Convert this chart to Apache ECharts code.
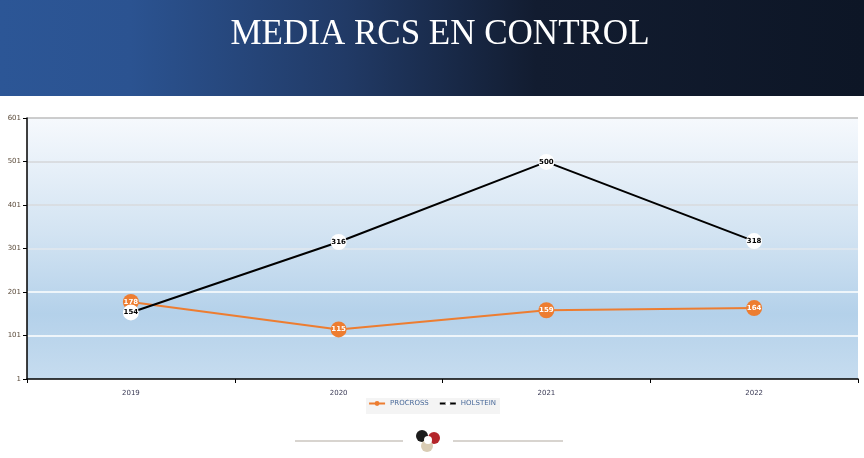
<!DOCTYPE html>
<html>
<head>
<meta charset="utf-8">
<script src="https://cdn.jsdelivr.net/npm/echarts@6/dist/echarts.min.js"></script>
<style>
  html, body { margin: 0; padding: 0; background: #fff; }
  #chart { width: 864px; height: 458px; }
</style>
</head>
<body>
<div id="chart"></div>
<script>
const years = ['2019', '2020', '2021', '2022']
const procross = [178, 115, 159, 164]
const holstein = [154, 316, 500, 318]
const yMin = 1
const yMax = 601
const yStep = 100

const chart = echarts.init(document.getElementById('chart'))

const headerFill = new echarts.graphic.LinearGradient(0, 0, 1, 0, [
  { offset: 0, color: '#2c5696' },
  { offset: 0.15, color: '#2b5391' },
  { offset: 0.4, color: '#213a66' },
  { offset: 0.62, color: '#121c30' },
  { offset: 1, color: '#0d1626' },
])

const plotFill = new echarts.graphic.LinearGradient(0, 0, 0, 1, [
  { offset: 0, color: '#f6f9fd' },
  { offset: 0.45, color: '#d2e3f2' },
  { offset: 0.75, color: '#b4d1ea' },
  { offset: 1, color: '#c6dcef' },
])

chart.setOption({
  animation: false,
  title: {
    text: 'MEDIA RCS EN CONTROL',
    left: 435,
    top: 12,
    textAlign: 'center',
    textStyle: {
      fontFamily: 'Liberation Serif',
      fontWeight: 'normal',
      fontSize: 35,
      color: '#ffffff',
      textShadowColor: 'rgba(255,255,255,0.6)',
      textShadowBlur: 0,
      textShadowOffsetX: 0.6,
    },
  },
  graphic: [
    { type: 'rect', z: -10, shape: { x: 0, y: 0, width: 864, height: 96 }, style: { fill: headerFill } },
    { type: 'rect', silent: true, shape: { x: 366, y: 398, width: 134, height: 16 }, style: { fill: '#f4f4f4' } },
    { type: 'line', shape: { x1: 295, y1: 441, x2: 403, y2: 441 }, style: { stroke: '#d8d4cf', lineWidth: 2 } },
    { type: 'line', shape: { x1: 453, y1: 441, x2: 563, y2: 441 }, style: { stroke: '#d8d4cf', lineWidth: 2 } },
    { type: 'circle', shape: { cx: 422, cy: 436, r: 6 }, style: { fill: '#1c1c1c' } },
    { type: 'circle', shape: { cx: 434, cy: 438, r: 6 }, style: { fill: '#b4252a' } },
    { type: 'circle', shape: { cx: 427, cy: 446, r: 6 }, style: { fill: '#d9ccb4' } },
    { type: 'circle', shape: { cx: 428, cy: 440, r: 4 }, style: { fill: '#ffffff' } },
  ],
  legend: {
    bottom: 46,
    left: 'center',
    itemWidth: 16,
    itemHeight: 6,
    itemGap: 10,
    textStyle: { fontSize: 7, color: '#4a6a9a', fontFamily: 'DejaVu Sans' },
    data: ['PROCROSS', 'HOLSTEIN'],
  },
  grid: {
    left: 27,
    right: 6,
    top: 118,
    bottom: 79,
    show: true,
    borderWidth: 0,
    backgroundColor: plotFill,
  },
  xAxis: {
    type: 'category',
    data: years,
    boundaryGap: true,
    axisLine: { lineStyle: { color: '#000', width: 1.5 } },
    axisTick: { show: true, length: 4, lineStyle: { color: '#000' } },
    axisLabel: { fontSize: 7, color: '#3a3a55', margin: 11, fontFamily: 'DejaVu Sans' },
  },
  yAxis: {
    type: 'value',
    min: yMin,
    max: yMax,
    interval: yStep,
    axisLine: { show: true, lineStyle: { color: '#000', width: 1.5 } },
    axisTick: { show: true, length: 4, lineStyle: { color: '#000' } },
    axisLabel: { fontSize: 7, color: '#5a4a3a', margin: 6, fontFamily: 'DejaVu Sans' },
    splitLine: {
      show: true,
      lineStyle: {
        width: 1.5,
        color: ['transparent', '#ffffff', '#ffffff', '#e2e8ee', '#d8dadc', '#d4d6d8', '#bdbdbd'],
      },
    },
  },
  series: [
    {
      name: 'PROCROSS',
      type: 'line',
      data: procross,
      symbol: 'circle',
      symbolSize: 16,
      z: 3,
      lineStyle: { color: '#ed7d31', width: 2 },
      itemStyle: { color: '#ed7d31' },
      label: {
        show: true,
        position: 'inside',
        color: '#fff',
        fontSize: 7,
        fontWeight: 'bold',
        fontFamily: 'DejaVu Sans',
      },
    },
    {
      name: 'HOLSTEIN',
      type: 'line',
      data: holstein,
      symbol: 'circle',
      symbolSize: 16,
      z: 4,
      lineStyle: { color: '#000', width: 2 },
      itemStyle: { color: '#ffffff', borderWidth: 0 },
      label: {
        show: true,
        position: 'inside',
        color: '#000',
        fontSize: 7,
        fontWeight: 'bold',
        fontFamily: 'DejaVu Sans',
      },
    },
  ],
})
</script>
</body>
</html>
